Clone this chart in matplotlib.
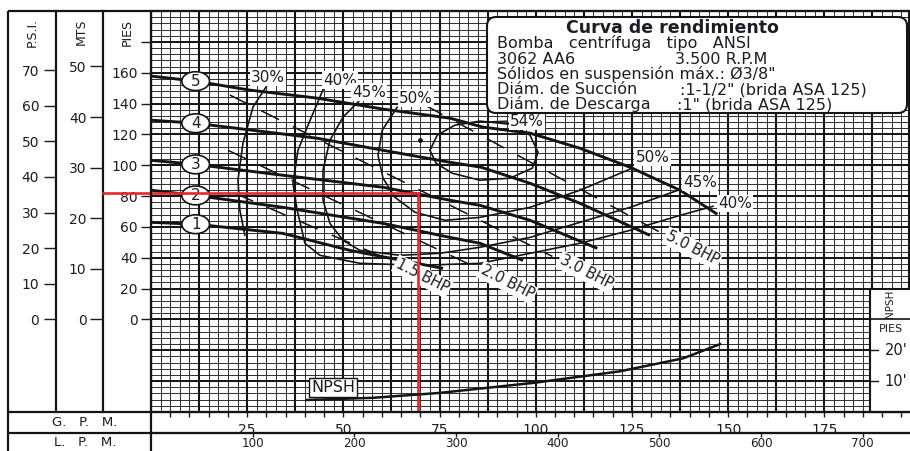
import numpy as np
import matplotlib
matplotlib.use("Agg")
import matplotlib.pyplot as plt
from matplotlib import transforms
from matplotlib.patches import FancyBboxPatch, Rectangle, Ellipse

plt.rcParams.update({
    "font.family": "DejaVu Sans",
    "font.size": 10,
    "text.color": "#1c1c24",
    "xtick.color": "#1c1c24",
    "ytick.color": "#1c1c24",
})

INK = "#141414"
RED = "#e8262b"

# ── curvas H-Q por rodete (GPM, pies) ───────────────────────────────────────
Q_IMP1 = [0, 12.0, 34.3, 51.7, 75.9]
H_IMP1 = [63.0, 61.7, 55.8, 44.8, 33.1]
Q_IMP2 = [0, 11.4, 34.3, 60.3, 77.7, 85.5, 96.7]
H_IMP2 = [83.8, 80.5, 72.7, 62.3, 53.2, 49.4, 38.3]
Q_IMP3 = [0, 11.4, 34.3, 60.3, 77.7, 85.5, 98.5, 116.0]
H_IMP3 = [103.2, 100.6, 93.5, 85.7, 77.3, 74.0, 64.3, 46.1]
Q_IMP4 = [0, 11.4, 43.2, 60.3, 77.7, 85.8, 98.5, 111.5, 129.7]
H_IMP4 = [129.2, 127.3, 117.5, 109.7, 101.9, 98.7, 88.3, 75.3, 54.5]
Q_IMP5 = [0, 11.7, 25.7, 43.2, 60.3, 77.7, 86.3, 98.5, 111.5, 124.5, 137.5, 147.2]
H_IMP5 = [157.8, 154.5, 148.7, 143.5, 136.4, 130.5, 124.7, 120.8, 111.0, 98.7, 83.8, 68.2]
IMP_NAMES = ["1", "2", "3", "4", "5"]
CIRCLE_GPM = 11.6

# ── curvas de isorendimiento ────────────────────────────────────────────────
EFF_30_Q = [30.2, 26.5, 23.9, 22.6, 23.1, 24.4]
EFF_30_H = [151.9, 137.7, 114.3, 90.3, 70.8, 54.5]
EFF_40_Q = [45.2, 40.6, 38.2, 36.9, 38.0, 40.0, 43.9, 54.3, 69.9, 85.5, 98.5, 111.5, 124.5, 137.5, 146.1]
EFF_40_H = [151.9, 124.7, 109.7, 88.3, 70.8, 49.4, 41.6, 36.4, 35.1, 36.4, 42.9, 49.4, 57.8, 67.5, 73.4]
EFF_45_Q = [54.3, 49.9, 46.5, 44.7, 44.7, 46.5, 49.9, 54.3, 64.7, 75.1, 85.5, 98.5, 111.5, 124.5, 137.0]
EFF_45_H = [142.2, 131.2, 116.2, 96.8, 77.3, 62.3, 51.3, 44.8, 41.6, 42.9, 46.8, 53.2, 63.0, 72.7, 83.8]
EFF_50_Q = [64.0, 60.1, 59.0, 60.3, 63.4, 68.6, 76.4, 85.5, 98.5, 111.5, 125.1]
EFF_50_H = [137.7, 122.7, 106.5, 91.6, 79.2, 69.5, 64.3, 66.2, 72.7, 83.8, 98.1]
EFF_54_Q = [72.5, 74.4, 79.0, 85.5, 93.3, 98.5, 100.6, 99.1, 93.3, 85.5, 78.3, 74.1, 72.5]
EFF_54_H = [109.7, 119.5, 126.0, 128.6, 126.6, 119.5, 108.4, 98.1, 91.6, 90.3, 94.8, 101.3, 109.7]
BEP_Q, BEP_H = 69.9, 116.2

EFF_LABELS = ["30%", "40%", "45%", "50%", "54%", "50%", "45%", "40%"]
EFF_LABEL_Q = [30.4, 49.1, 56.7, 68.9, 97.8, 130.3, 142.7, 151.8]
EFF_LABEL_H = [157.1, 155.2, 147.4, 143.5, 128.6, 105.2, 89.0, 75.3]
LEADER_54_Q = [85.0, 92.6]
LEADER_54_H = [127.9, 128.6]

# ── lineas de potencia (BHP) ────────────────────────────────────────────────
BHP_LABELS = ["1.5 BHP", "2.0 BHP", "3.0 BHP", "5.0 BHP"]
BHP_Q = [(21.8, 61.6), (20.0, 85.0), (20.5, 104.3), (71.2, 132.3)]
BHP_H = [(81.8, 39.0), (109.7, 33.1), (145.5, 40.9), (139.0, 56.5)]
BHP_LABEL_Q = [70.5, 92.6, 113.1, 140.7]
BHP_LABEL_H = [27.9, 24.0, 30.5, 46.1]

# ── NPSH requerido (GPM, pies) ──────────────────────────────────────────────
NPSH_Q = [40.6, 57.7, 75.1, 99.8, 121.9, 138.3, 147.9]
NPSH_FT = [3.9, 4.6, 6.2, 9.5, 13.2, 17.4, 22.0]
NPSH_LABEL_Q, NPSH_LABEL_FT = 47.3, 7.9

# punto de operacion marcado en rojo
OP_GPM, OP_HEAD = 69.5, 82.0

# escalas
PIES_TICKS = list(range(0, 181, 20))
MTS_TICKS = list(range(0, 51, 10))
PSI_TICKS = list(range(0, 71, 10))
GPM_TICKS = [25, 50, 75, 100, 125, 150, 175]
LPM_TICKS = [100, 200, 300, 400, 500, 600, 700]
NPSH_TICKS = [10, 20]
FT_PER_PSI = 2.31
FT_PER_M = 3.281
LPM_PER_GPM = 3.785

TITLE_LINES = [
    ("Curva de rendimiento", 672, 33, "center", "bold", 12.5),
    ("Bomba   centrífuga   tipo   ANSI", 497, 48, "left", "normal", 11.5),
    ("3062 AA6", 497, 63.5, "left", "normal", 11.5),
    ("3.500 R.P.M", 675, 63.5, "left", "normal", 11.5),
    ("Sólidos en suspensión máx.: Ø3/8\"", 497, 79, "left", "normal", 11.5),
    ("Diám. de Succión", 497, 94.5, "left", "normal", 11.5),
    (":1-1/2\" (brida ASA 125)", 680, 94.5, "left", "normal", 11.5),
    ("Diám. de Descarga", 497, 109, "left", "normal", 11.5),
    (":1\" (brida ASA 125)", 677, 109, "left", "normal", 11.5),
]

W, H = 910, 451
fig = plt.figure(figsize=(W / 100, H / 100), dpi=100)
fig.patch.set_facecolor("white")

# plot area in pixels
L, R, T, B = 151, 909, 11, 412
ax = fig.add_axes([L / W, (H - B) / H, (R - L) / W, (B - T) / H])
ax.set_xlim(0, 197)
ax.set_ylim(-60, 200)
for s in ax.spines.values():
    s.set_linewidth(1.5)
    s.set_color(INK)

# grid (fine + heavy)
ax.vlines(np.arange(0, 197.1, 2.5), -60, 200, color="#2e2e2e", lw=0.7, zorder=1)
ax.hlines(np.arange(-60, 200.1, 4), 0, 197, color="#2e2e2e", lw=0.7, zorder=1)
ax.vlines(np.arange(0, 197.1, 12.5), -60, 200, color=INK, lw=1.5, zorder=1.2)
ax.hlines(np.arange(-60, 200.1, 20), 0, 197, color=INK, lw=1.4, zorder=1.2)

# efficiency curves
for q, h in [(EFF_30_Q, EFF_30_H), (EFF_40_Q, EFF_40_H), (EFF_45_Q, EFF_45_H),
             (EFF_50_Q, EFF_50_H), (EFF_54_Q, EFF_54_H)]:
    ax.plot(q, h, color=INK, lw=1.2, zorder=3, solid_capstyle="round")
ax.plot(LEADER_54_Q, LEADER_54_H, color=INK, lw=1.0, zorder=3)
ax.plot([BEP_Q], [BEP_H], "o", color=INK, ms=2.5, zorder=3)

# BHP dashed lines
for q, h in zip(BHP_Q, BHP_H):
    ax.plot(q, h, color=INK, lw=1.1, dashes=(13, 10), zorder=3)

# head curves with numbered ovals
imp_q = [Q_IMP1, Q_IMP2, Q_IMP3, Q_IMP4, Q_IMP5]
imp_h = [H_IMP1, H_IMP2, H_IMP3, H_IMP4, H_IMP5]
for q, h, name in zip(imp_q, imp_h, IMP_NAMES):
    ax.plot(q, h, color=INK, lw=2.1, zorder=4, solid_capstyle="butt")
    yc = np.interp(CIRCLE_GPM, q, h)
    ax.add_patch(Ellipse((CIRCLE_GPM, yc), 7.2, 12.2, fc="white", ec=INK, lw=1.2, zorder=6))
    ax.text(CIRCLE_GPM, yc, name, fontsize=11, ha="center", va="center", zorder=7)

# labels
for txt, q, h in zip(EFF_LABELS, EFF_LABEL_Q, EFF_LABEL_H):
    ax.text(q, h, txt, fontsize=11, ha="center", va="center", zorder=6,
            bbox=dict(boxstyle="square,pad=0.08", fc="white", ec="none"))
for txt, q, h in zip(BHP_LABELS, BHP_LABEL_Q, BHP_LABEL_H):
    ax.text(q, h, txt, fontsize=10.5, ha="center", va="center", rotation=-27,
            rotation_mode="anchor", zorder=6,
            bbox=dict(boxstyle="square,pad=0.12", fc="white", ec="none"))

# PIES axis (main)
ax.set_yticks(PIES_TICKS, labels=[str(v) if v < 180 else "" for v in PIES_TICKS])
ax.tick_params(axis="y", direction="out", length=7.2, width=1.0, pad=2.5, labelsize=10)

# MTS and PSI columns
MTS_LOC = (103 - L) / (R - L)
PSI_LOC = (56 - L) / (R - L)
mts = ax.secondary_yaxis(MTS_LOC, functions=(lambda f: f / FT_PER_M, lambda m: m * FT_PER_M))
mts.set_yticks(MTS_TICKS)
psi = ax.secondary_yaxis(PSI_LOC, functions=(lambda f: f / FT_PER_PSI, lambda p: p * FT_PER_PSI))
psi.set_yticks(PSI_TICKS)
for sec, ln, pd in [(mts, 9.4, 2.5), (psi, 8.6, 3.5)]:
    sec.tick_params(direction="out", length=ln, width=1.0, pad=pd, labelsize=10)
    for s in sec.spines.values():
        s.set_linewidth(1.6)
        s.set_color(INK)

# GPM / LPM
ax.set_xticks(GPM_TICKS)
ax.set_xticks(np.arange(5, 197, 5), minor=True)
ax.tick_params(axis="x", which="both", direction="out", length=3.8, width=1.0)
ax.tick_params(axis="x", which="major", pad=4.0, labelsize=10)
LPM_LOC = -(433 - B) / (B - T)
lpm = ax.secondary_xaxis(LPM_LOC, functions=(lambda g: g * LPM_PER_GPM, lambda l: l / LPM_PER_GPM))
lpm.set_xticks(LPM_TICKS)
lpm.tick_params(direction="out", length=3.0, width=1.0, pad=0.2, labelsize=8.6)
for s in lpm.spines.values():
    s.set_linewidth(1.5)
    s.set_color(INK)

# operating point (red)
x_left = ax.get_xlim()[0] + MTS_LOC * (ax.get_xlim()[1] - ax.get_xlim()[0])
ax.plot([x_left, OP_GPM], [OP_HEAD, OP_HEAD], color=RED, lw=1.9, zorder=8, clip_on=False)
ax.plot([OP_GPM, OP_GPM], [OP_HEAD, ax.get_ylim()[0]], color=RED, lw=1.9, zorder=8)

# NPSH on twin axis
ax2 = ax.twinx()
ax2.set_ylim(0, 130)
ax2.set_yticks([])
for s in ax2.spines.values():
    s.set_visible(False)
ax2.plot(NPSH_Q, NPSH_FT, color=INK, lw=1.8, zorder=4)
ax2.text(NPSH_LABEL_Q, NPSH_LABEL_FT, "NPSH", fontsize=11.5, ha="center", va="center",
         zorder=6, bbox=dict(boxstyle="square,pad=0.12", fc="white", ec=INK, lw=1.0))

# NPSH side panel
px0 = (870 - L) / (R - L)
blend = transforms.blended_transform_factory(ax2.transAxes, ax2.transData)
blend_ft = transforms.blended_transform_factory(ax2.transAxes, ax.transData)
panel_top = (20 - ax.get_ylim()[0]) / (ax.get_ylim()[1] - ax.get_ylim()[0])
ax2.add_patch(Rectangle((px0, 0), 1.2 - px0, panel_top, transform=ax2.transAxes,
                        fc="white", ec=INK, lw=1.5, zorder=9, clip_on=False))
ax2.plot([px0, 1.2], [0, 0], transform=blend_ft, color=INK, lw=1.2, zorder=10, clip_on=False)
ax2.text(px0 + 0.026, 10, "NPSH", transform=blend_ft, rotation=90, fontsize=7.5,
         ha="center", va="center", zorder=10)
ax2.text(px0 + 0.028, -6.5, "PIES", transform=blend_ft, fontsize=8,
         ha="center", va="center", zorder=10)
for v in NPSH_TICKS:
    ax2.plot([px0, px0 + 0.010], [v, v], transform=blend, color=INK, lw=1.0, zorder=10)
    ax2.text(px0 + 0.034, v, f"{v}'", transform=blend, fontsize=10.5,
             ha="center", va="center", zorder=10)

# overlay frame in pixel coordinates
ov = fig.add_axes([0, 0, 1, 1])
ov.set_xlim(0, W)
ov.set_ylim(H, 0)
ov.axis("off")
ov.patch.set_alpha(0)
for xs, ys in [((8, 910), (11, 11)), ((8, 8), (11, 451)), ((8, 910), (412, 412)),
               ((8, 910), (433, 433)), ((151, 151), (11, 451))]:
    ov.plot(xs, ys, color=INK, lw=1.6, solid_capstyle="butt")
for txt, x in [("P.S.I.", 32), ("MTS", 81), ("PIES", 127)]:
    ov.text(x, 32, txt, rotation=90, fontsize=9, ha="center", va="center")
ov.text(85, 422.5, "G.   P.   M.", fontsize=9.5, ha="center", va="center")
ov.text(85, 442.5, "L.   P.   M.", fontsize=9.5, ha="center", va="center")

ov.add_patch(FancyBboxPatch((487, 17), 420, 96, boxstyle="round,pad=0,rounding_size=9",
                            fc="white", ec=INK, lw=1.5, zorder=5))
for txt, x, y, ha, wt, fs in TITLE_LINES:
    ov.text(x, y, txt, fontsize=fs, ha=ha, va="baseline", fontweight=wt, zorder=6)

fig.savefig("out.png", dpi=100)
